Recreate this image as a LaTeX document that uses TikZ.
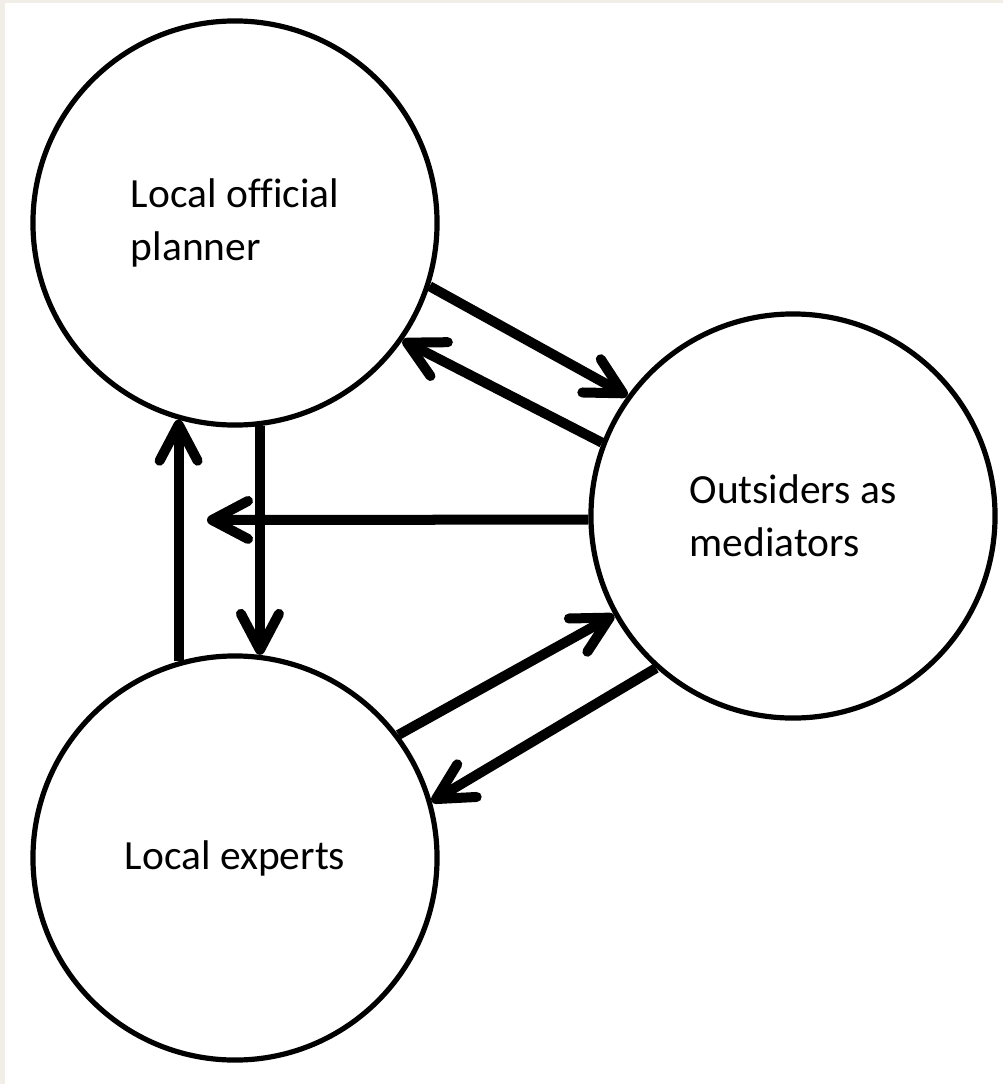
\documentclass[tikz,border=0pt]{standalone}
\usepackage{fontspec}
\setmainfont{Carlito}[Ligatures=NoCommon]
\usetikzlibrary{arrows.meta}

\begin{document}
\begin{tikzpicture}[x=0.025cm, y=-0.025cm,
    party/.style={draw, circle, line width=0.13cm, minimum size=10.1cm,
        align=left, font=\fontsize{29.5}{37.5}\selectfont},
    flow/.style={line width=0.25cm,
        -{Straight Barb[round, length=0.9cm, width=0.95cm]}}]

\definecolor{framebeige}{RGB}{241,238,232}
\fill[framebeige] (0,0) rectangle (1003,1084);
\fill[white] (5,3) rectangle (1003,1084);
\useasboundingbox (0,0) rectangle (1003,1084);

% the three parties
\node[party] (planner) at (235,223) {Local official\\planner};
\node[party] (outsiders) at (793,516) {Outsiders as\\mediators};
\node[party] (experts) at (235,858) {Local experts};

\coordinate (lefttip) at (207,520);

% exchanges between them
\draw[flow] (planner.-18) -- (outsiders.144);
\draw[flow] (outsiders.159) -- (planner.-35);
\draw[flow] (outsiders.181) -- (lefttip);
\draw[flow] (planner.-83) -- (experts.83);
\draw[flow] (experts.106) -- (planner.-106);
\draw[flow] (experts.37) -- (outsiders.-151);
\draw[flow] (outsiders.-132) -- (experts.16);
\end{tikzpicture}
\end{document}
